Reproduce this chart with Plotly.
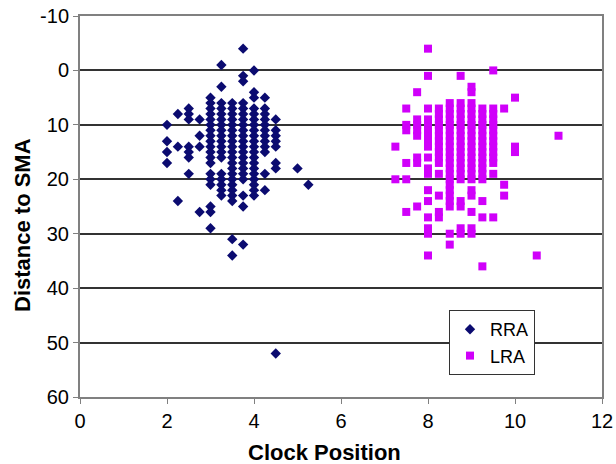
import plotly.graph_objects as go

# RRA: clock-position columns and the distances observed in each column
rra_cols = [2, 2.25, 2.5, 2.75, 3, 3.25, 3.5, 3.75, 4, 4.25, 4.5, 5, 5.25]
rra_vals = [
    [10, 13, 15, 17],
    [8, 14, 24],
    [7, 8, 9, 14, 15, 16, 19],
    [9, 12, 14, 26],
    [5, 6, 7, 8, 9, 10, 11, 12, 13, 14, 15, 16, 17, 19, 20, 21, 25, 26, 29],
    [-1, 3, 6, 7, 8, 9, 10, 11, 12, 13, 14, 15, 16, 19, 20, 21, 22, 23],
    [6, 7, 8, 9, 10, 11, 12, 13, 14, 15, 16, 17, 18, 19, 20, 21, 22, 23, 24, 31, 34],
    [-4, 1, 2, 6, 7, 8, 9, 10, 11, 12, 13, 14, 15, 16, 17, 18, 19, 20, 23, 25, 32],
    [0, 4, 5, 7, 8, 9, 10, 11, 12, 13, 14, 15, 16, 17, 18, 19, 20, 21, 22, 23],
    [5, 7, 8, 9, 10, 11, 12, 13, 14, 15, 19, 22],
    [9, 11, 12, 13, 14, 17, 18, 52],
    [18],
    [21],
]

# LRA
lra_cols = [7.25, 7.5, 7.75, 8, 8.25, 8.5, 8.75, 9, 9.25, 9.5, 9.75, 10, 10.5, 11]
lra_vals = [
    [14, 20],
    [7, 10, 11, 17, 20, 26],
    [4, 9, 10, 11, 12, 16, 17, 25],
    [-4, 1, 7, 9, 10, 11, 12, 13, 14, 16, 18, 19, 22, 24, 27, 29, 30, 34],
    [7, 8, 9, 10, 11, 12, 13, 14, 15, 16, 17, 19, 23, 26, 27],
    [6, 7, 8, 9, 10, 11, 12, 13, 14, 15, 16, 17, 18, 19, 20, 21, 22, 23, 24, 25, 30, 32],
    [1, 6, 7, 8, 9, 10, 11, 12, 13, 14, 15, 16, 17, 18, 19, 20, 24, 25, 29, 30],
    [3, 4, 6, 7, 8, 9, 10, 11, 12, 13, 14, 15, 16, 17, 18, 19, 20, 22, 23, 26, 29, 30],
    [7, 8, 9, 10, 11, 12, 13, 14, 15, 16, 17, 18, 19, 20, 24, 27, 36],
    [0, 7, 8, 9, 10, 11, 12, 13, 14, 15, 16, 17, 19, 27],
    [7, 21, 23],
    [5, 14, 15],
    [34],
    [12],
]

x_ticks = [0, 2, 4, 6, 8, 10, 12]
y_ticks = [-10, 0, 10, 20, 30, 40, 50, 60]
y_tick_text = ["-10", "0", "10", "20", "30", "40", "50", "60"]


def expand(cols, vals):
    xs, ys = [], []
    for c, vs in zip(cols, vals):
        for v in vs:
            xs.append(c)
            ys.append(v)
    return xs, ys


rx, ry = expand(rra_cols, rra_vals)
lx, ly = expand(lra_cols, lra_vals)

FONT = "Liberation Sans, Arial, sans-serif"

fig = go.Figure()
fig.add_trace(go.Scatter(x=rx, y=ry, mode="markers", name="RRA",
                         marker=dict(symbol="diamond", size=8, color="#0B0B70",
                                     line=dict(width=0))))
fig.add_trace(go.Scatter(x=lx, y=ly, mode="markers", name="LRA",
                         marker=dict(symbol="square", size=8, color="#D000FA",
                                     line=dict(width=0))))

fig.update_layout(
    width=616, height=464,
    margin=dict(l=80, r=14, t=16, b=67),
    paper_bgcolor="white", plot_bgcolor="white",
    font=dict(family=FONT, size=20, color="black"),
    showlegend=True,
    legend=dict(x=(449 - 80) / 522, y=(397 - 310) / 381,
                xanchor="left", yanchor="top",
                bgcolor="white", bordercolor="#333333", borderwidth=1,
                font=dict(size=18, family=FONT), itemwidth=30,
                tracegroupgap=0),
    annotations=[
        dict(text="<b>Clock Position</b>", xref="paper", yref="paper",
             x=(324 - 80) / 522, y=-(453 - 397) / 381,
             xanchor="center", yanchor="middle", showarrow=False,
             font=dict(size=22, family=FONT)),
        dict(text="<b>Distance to SMA</b>", xref="paper", yref="paper",
             x=-(80 - 22) / 522, y=(397 - 225) / 381, textangle=-90,
             xanchor="center", yanchor="middle", showarrow=False,
             font=dict(size=22, family=FONT)),
    ],
)
fig.update_xaxes(range=[0, 12], tickvals=x_ticks, ticks="outside", ticklen=5,
                 tickcolor="#808080", showline=True, linecolor="#808080",
                 linewidth=2, mirror=True, showgrid=False, zeroline=False,
                 automargin=False, ticklabeloverflow="allow")
fig.update_yaxes(range=[60, -10], tickvals=y_ticks, ticktext=y_tick_text,
                 ticks="outside", ticklen=5,
                 tickcolor="#808080", showline=True, linecolor="#808080",
                 linewidth=2, mirror=True, showgrid=True, gridcolor="#333333",
                 gridwidth=1.5, zeroline=False, automargin=False,
                 ticklabeloverflow="allow")

fig.write_html(
    "out.html",
    config={"displayModeBar": False},
    post_script="document.body.style.margin='0';"
                "document.body.style.overflow='hidden';",
)
